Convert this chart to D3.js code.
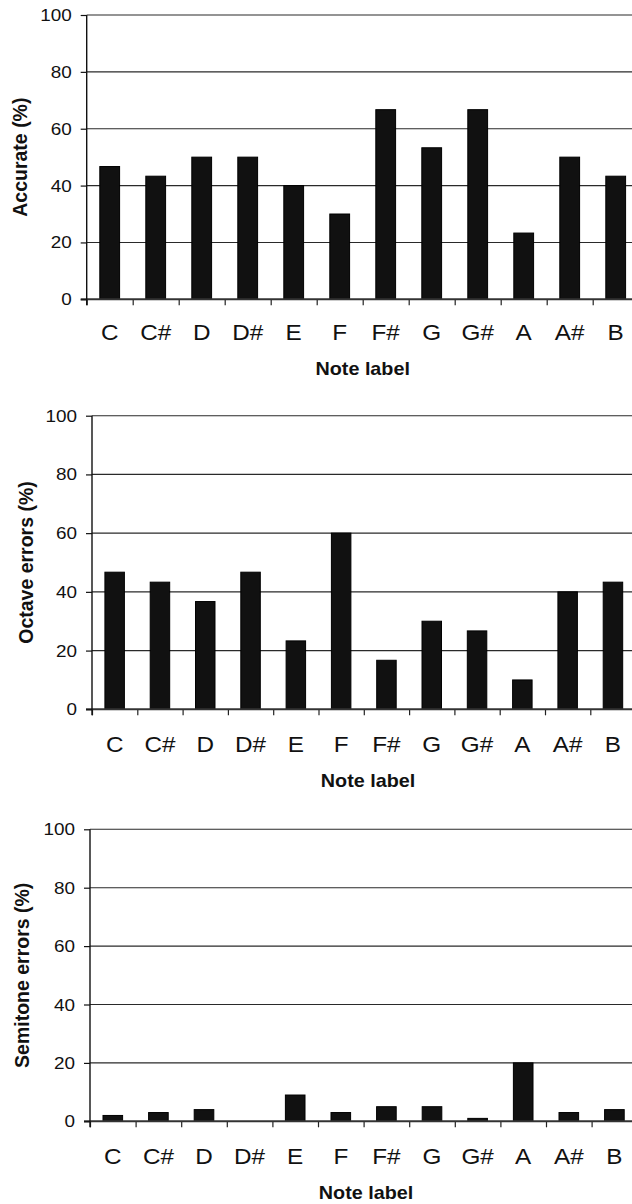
<!DOCTYPE html>
<html>
<head>
<meta charset="utf-8">
<script src="https://cdn.jsdelivr.net/npm/d3@7"></script>
<style>
  html, body { margin: 0; padding: 0; background: #fff; }
  svg { display: block; }
  text { font-family: "Liberation Sans", Arial, sans-serif; fill: #111; }
</style>
</head>
<body>
<script>
// ---- data ----
const notes = ["C", "C#", "D", "D#", "E", "F", "F#", "G", "G#", "A", "A#", "B"];
const accurate = [46.7, 43.3, 50, 50, 40, 30, 66.7, 53.3, 66.7, 23.3, 50, 43.3];
const octaveErrors = [46.7, 43.3, 36.7, 46.7, 23.3, 60, 16.7, 30, 26.7, 10, 40, 43.3];
const semitoneErrors = [2, 3, 4, 0, 9, 3, 5, 5, 1, 20, 3, 4];
const yTicks = [0, 20, 40, 60, 80, 100];
const yTitles = ["Accurate (%)", "Octave errors (%)", "Semitone errors (%)"];
const xTitle = "Note label";

// ---- layout ----
const W = 632, H = 1204;
const panels = [
  { values: accurate, title: yTitles[0], left: 86.7, step: 46.0, top: 15.0, bottom: 299.3, titleX: 27, catOff: 41, xtOff: 76 },
  { values: octaveErrors, title: yTitles[1], left: 92.0, step: 45.3, top: 415.7, bottom: 709.3, titleX: 33, catOff: 42.5, xtOff: 77.5 },
  { values: semitoneErrors, title: yTitles[2], left: 90.0, step: 45.6, top: 829.3, bottom: 1121.3, titleX: 28.5, catOff: 43, xtOff: 77.5 }
];
const SX_TICK = 1.16, SX_CAT = 1.13, SX_TITLE = 1.04;

const svg = d3.select("body").append("svg").attr("width", W).attr("height", H);
svg.append("rect").attr("width", W).attr("height", H).attr("fill", "#fff");

panels.forEach(p => {
  const right = p.left + p.step * notes.length;
  const x = d3.scaleBand().domain(notes).range([p.left, right]).paddingInner(0.57).paddingOuter(0.285);
  const xb = d3.scaleLinear().domain([0, notes.length]).range([p.left, right]);
  const y = d3.scaleLinear().domain([0, 100]).range([p.bottom, p.top]);
  const g = svg.append("g");

  // gridlines
  g.append("g").selectAll("line").data(yTicks.filter(t => t > 0)).join("line")
    .attr("x1", p.left).attr("x2", W)
    .attr("y1", d => y(d)).attr("y2", d => y(d))
    .attr("stroke", "#2a2a2a").attr("stroke-width", 1.1);

  // bars
  g.append("g").selectAll("rect").data(notes).join("rect")
    .attr("x", d => x(d))
    .attr("width", x.bandwidth())
    .attr("y", (d, i) => y(p.values[i]))
    .attr("height", (d, i) => y(0) - y(p.values[i]))
    .attr("fill", "#111").attr("stroke", "#000").attr("stroke-width", 1)
    .attr("display", (d, i) => p.values[i] > 0 ? null : "none");

  // x axis (boundary ticks)
  const xAxis = d3.axisBottom(xb).tickValues(d3.range(notes.length + 1)).tickSize(6).tickSizeOuter(0).tickFormat("");
  const gx = g.append("g").attr("transform", `translate(0,${y(0)})`).call(xAxis);
  gx.select(".domain").remove();
  gx.selectAll(".tick line").attr("stroke", "#222").attr("stroke-width", 1.2);
  g.append("line").attr("x1", p.left - 6).attr("x2", W).attr("y1", y(0)).attr("y2", y(0))
    .attr("stroke", "#333").attr("stroke-width", 2);

  // y axis
  const yAxis = d3.axisLeft(y).tickValues(yTicks).tickSize(6).tickSizeOuter(0).tickFormat(d3.format("d"));
  const gy = g.append("g").attr("transform", `translate(${p.left},0)`).call(yAxis);
  gy.select(".domain").remove();
  gy.selectAll(".tick line").attr("stroke", "#111").attr("stroke-width", 1.2);
  gy.selectAll(".tick text")
    .attr("x", null).attr("dy", null)
    .attr("transform", `translate(-15,0) scale(${SX_TICK},1)`)
    .attr("dominant-baseline", "central")
    .attr("text-anchor", "end")
    .style("font-family", '"Liberation Sans", Arial, sans-serif')
    .style("font-size", "16.3px").attr("fill", "#111");
  g.append("line").attr("x1", p.left).attr("x2", p.left).attr("y1", y(100)).attr("y2", y(0) + 6)
    .attr("stroke", "#111").attr("stroke-width", 1.4);

  // category labels
  g.append("g").selectAll("text").data(notes).join("text")
    .attr("transform", d => `translate(${x(d) + x.bandwidth() / 2},${y(0) + p.catOff}) scale(${SX_CAT},1)`)
    .attr("text-anchor", "middle")
    .style("font-size", "21.5px")
    .text(d => d);

  // x title
  g.append("text")
    .attr("transform", `translate(${p.left + 276},${y(0) + p.xtOff}) scale(${SX_TITLE},1)`)
    .attr("text-anchor", "middle")
    .style("font-size", "19px").style("font-weight", "bold")
    .text(xTitle);

  // y title
  g.append("text")
    .attr("transform", `translate(${p.titleX},${(y(0) + y(100)) / 2}) rotate(-90)`)
    .attr("text-anchor", "middle")
    .style("font-size", "19.5px").style("font-weight", "bold")
    .text(p.title);
});
</script>
</body>
</html>
